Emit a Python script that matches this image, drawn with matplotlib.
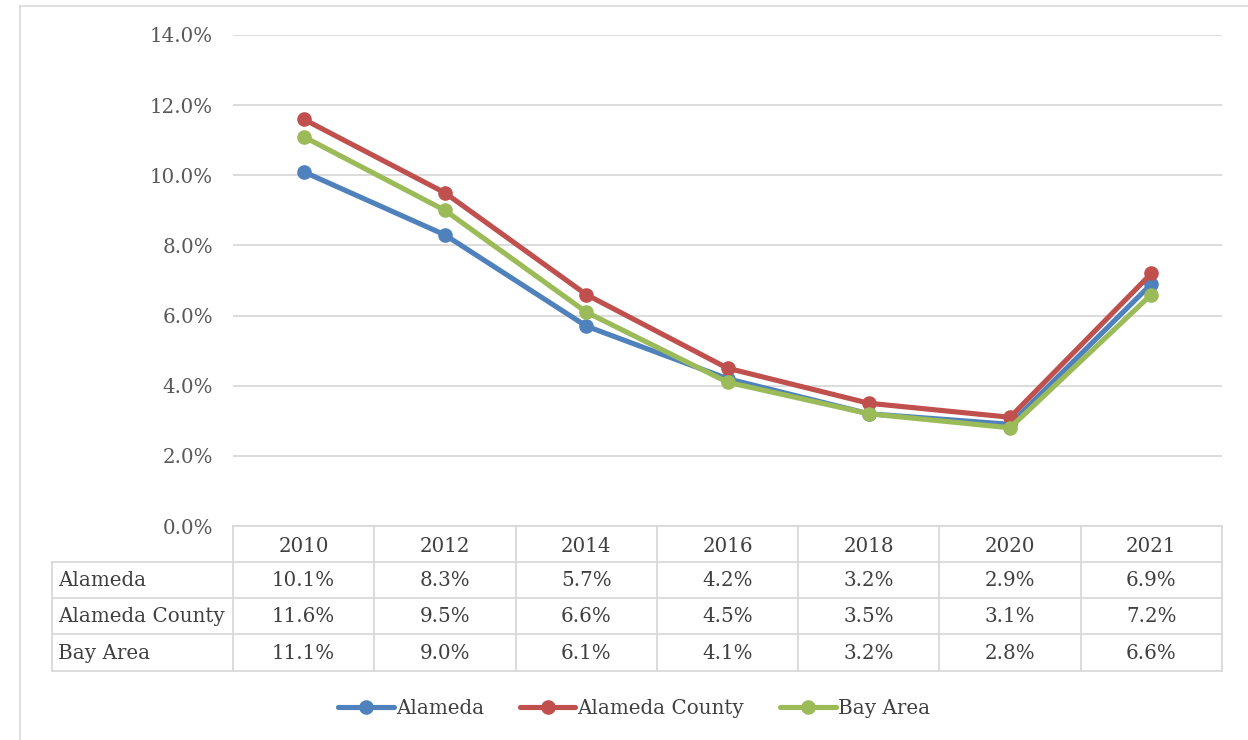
import matplotlib.pyplot as plt
import matplotlib.transforms as mtransforms
from matplotlib.lines import Line2D

# data
years = ["2010", "2012", "2014", "2016", "2018", "2020", "2021"]
alameda = [10.1, 8.3, 5.7, 4.2, 3.2, 2.9, 6.9]
alameda_county = [11.6, 9.5, 6.6, 4.5, 3.5, 3.1, 7.2]
bay_area = [11.1, 9.0, 6.1, 4.1, 3.2, 2.8, 6.6]
series_names = ["Alameda", "Alameda County", "Bay Area"]
colors = ["#4F81BD", "#C0504D", "#9BBB59"]

plt.rcParams['font.family'] = ['DejaVu Serif']
W, H = 1248, 740
fig = plt.figure(figsize=(W / 100, H / 100), dpi=100)

def fy(px):
    return 1 - px / H

# outer chart border (left and top visible)
fig.add_artist(Line2D([20 / W, 20 / W], [0, fy(6)], color="#d9d9d9", lw=1.2))
fig.add_artist(Line2D([20 / W, 1], [fy(6), fy(6)], color="#d9d9d9", lw=1.2))

ax = fig.add_axes([233 / W, fy(526), (1222 - 233) / W, (526 - 35) / H])
x = list(range(len(years)))
all_series = [alameda, alameda_county, bay_area]
for vals, name, c in zip(all_series, series_names, colors):
    ax.plot(x, [v / 100 for v in vals], "-o", color=c, lw=3.7, markersize=9.5, label=name,
            solid_capstyle="round", zorder=3)

ax.set_xlim(-0.5, len(years) - 0.5)
ax.set_ylim(0, 0.14)
ax.set_yticks([i * 0.02 for i in range(8)])
ax.set_yticklabels([f"{i * 2:.1f}%" for i in range(8)])
ax.yaxis.grid(True, color="#d9d9d9", lw=1.3)
ax.set_axisbelow(True)
ax.set_xticks([])
for s in ax.spines.values():
    s.set_visible(False)
fs = 14.3
ax.tick_params(axis="y", length=0, pad=14.5, labelsize=fs, labelcolor="#595959")

# data table below the plot
tr = mtransforms.blended_transform_factory(ax.transData, fig.transFigure)
gc = "#d9d9d9"
row_edges = [526, 562, 598, 634, 671]
left_px = 52
left_x = (left_px - 233) / ((1222 - 233) / len(years)) - 0.5
right_x = len(years) - 0.5
# horizontal lines
ax.plot([-0.5, right_x], [fy(526)] * 2, color=gc, lw=1.3, transform=tr, clip_on=False)
for r in row_edges[1:]:
    ax.plot([left_x, right_x], [fy(r)] * 2, color=gc, lw=1.3, transform=tr, clip_on=False)
# vertical lines
for i in range(len(years) + 1):
    ax.plot([i - 0.5] * 2, [fy(526), fy(671)], color=gc, lw=1.3, transform=tr, clip_on=False)
ax.plot([left_x] * 2, [fy(562), fy(671)], color=gc, lw=1.3, transform=tr, clip_on=False)

tc = "#404040"
for i, yr in enumerate(years):
    ax.text(i, fy(546), yr, ha="center", va="center", fontsize=fs, color=tc, transform=tr)
for r, (vals, name) in enumerate(zip(all_series, series_names)):
    yc = fy((row_edges[r + 1] + row_edges[r + 2]) / 2 + 1)
    ax.text(left_x + 0.04, yc, name, ha="left", va="center", fontsize=fs, color=tc, transform=tr)
    for i, v in enumerate(vals):
        ax.text(i, yc, f"{v:.1f}%", ha="center", va="center", fontsize=fs, color=tc, transform=tr)

leg = fig.legend(loc="center", bbox_to_anchor=(0.508, fy(708)), ncol=3, frameon=False,
                 fontsize=fs, handlelength=2.8, columnspacing=1.8, handletextpad=0.1)
for t in leg.get_texts():
    t.set_color(tc)

fig.savefig("out.png", dpi=100)
